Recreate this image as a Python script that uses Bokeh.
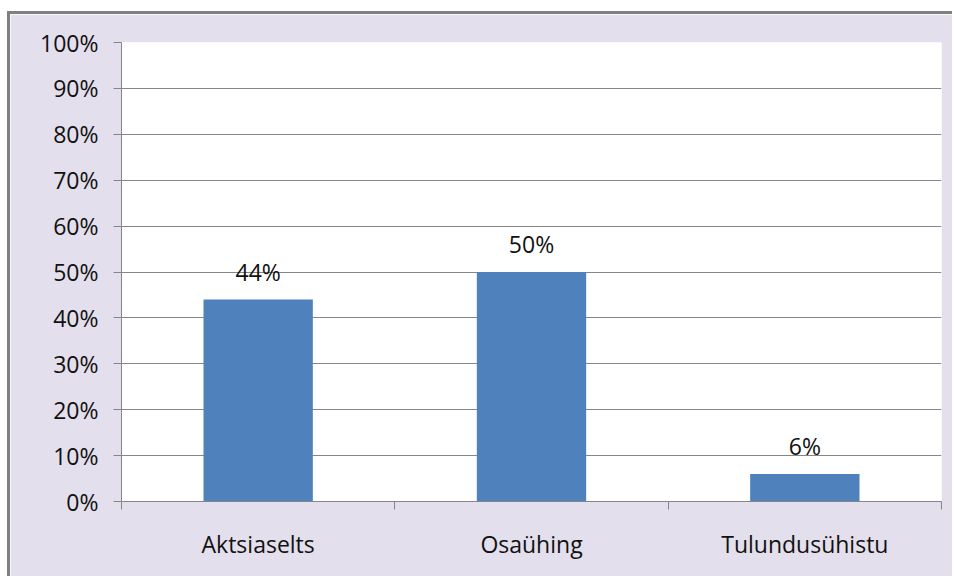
from bokeh.plotting import figure
from bokeh.models import (ColumnDataSource, FixedTicker, NumeralTickFormatter,
                          LabelSet, Range1d)
from bokeh.core.properties import value
from bokeh.embed import file_html
from bokeh.resources import INLINE

categories = ["Aktsiaselts", "Osaühing", "Tulundusühistu"]
values = [0.44, 0.50, 0.06]
value_labels = ["44%", "50%", "6%"]
y_ticks = [0.0, 0.1, 0.2, 0.3, 0.4, 0.5, 0.6, 0.7, 0.8, 0.9, 1.0]

FONT = "Open Sans"
FS = "23px"
GRAY = "#868686"
BG = "#E4DFEC"
TXT = "#111111"

xs = [i + 0.5 for i in range(len(categories))]
src = ColumnDataSource(dict(x=xs, top=values, label=value_labels))

p = figure(width=945, height=565, output_backend="svg", toolbar_location=None,
           x_range=Range1d(0, len(categories)), y_range=Range1d(0, 1),
           min_border_left=111, min_border_top=28, min_border_right=14,
           min_border_bottom=78)
p.styles = {"border-left": "3px solid #808080", "border-top": "3px solid #808080",
            "margin-top": "11px", "margin-left": "7px"}
p.border_fill_color = BG
p.background_fill_color = "white"
p.outline_line_color = None

p.vbar(x="x", top="top", bottom=0, width=0.4, source=src,
       fill_color="#4F81BD", line_color=None)

labels = LabelSet(x="x", y="top", text="label", source=src, text_align="center",
                  text_baseline="alphabetic", y_offset=19, text_font=value(FONT),
                  text_font_size=FS, text_color=TXT)
p.add_layout(labels)

# y axis
p.yaxis.ticker = FixedTicker(ticks=y_ticks)
p.yaxis.formatter = NumeralTickFormatter(format="0%")
p.yaxis.axis_line_color = GRAY
p.yaxis.major_tick_line_color = GRAY
p.yaxis.major_tick_out = 8
p.yaxis.major_tick_in = 0
p.yaxis.minor_tick_line_color = None
p.yaxis.major_label_standoff = 15
p.yaxis.major_label_text_font = FONT
p.yaxis.major_label_text_font_size = FS
p.yaxis.major_label_text_color = TXT

# x axis
p.xaxis.ticker = FixedTicker(ticks=xs, minor_ticks=list(range(len(categories) + 1)))
p.xaxis.major_label_overrides = {x: c for x, c in zip(xs, categories)}
p.xaxis.axis_line_color = GRAY
p.xaxis.major_tick_line_color = None
p.xaxis.major_tick_out = 0
p.xaxis.major_tick_in = 0
p.xaxis.minor_tick_line_color = GRAY
p.xaxis.minor_tick_out = 8
p.xaxis.minor_tick_in = 0
p.xaxis.major_label_standoff = 18
p.xaxis.major_label_text_font = FONT
p.xaxis.major_label_text_font_size = FS
p.xaxis.major_label_text_color = TXT

p.xgrid.grid_line_color = None
p.ygrid.grid_line_color = GRAY
p.ygrid.grid_line_width = 1

open("out.html", "w").write(file_html(p, INLINE))
